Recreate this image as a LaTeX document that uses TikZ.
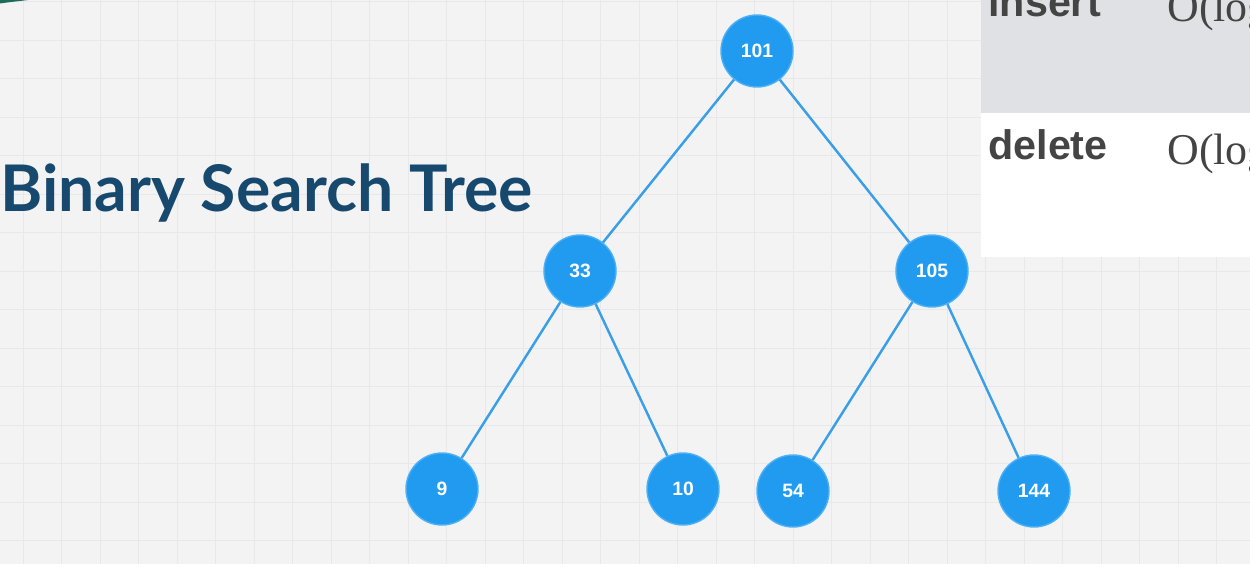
\documentclass[tikz,border=0pt]{standalone}
\usepackage{fontspec}
\setmainfont{Liberation Sans}
\newfontfamily\titlefont{Lato}
\newfontfamily\serifnum{Liberation Serif}
\definecolor{bgc}{HTML}{F3F3F4}
\definecolor{gridc}{HTML}{E8E8EA}
\definecolor{nodeblue}{HTML}{209BF0}
\definecolor{nodering}{HTML}{4DB0F5}
\definecolor{edgeblue}{HTML}{3A9FE6}
\definecolor{titleblue}{HTML}{17496F}
\definecolor{rowgray}{HTML}{E0E1E4}
\definecolor{tabtext}{HTML}{444444}
\definecolor{cornergreen}{HTML}{1F6B5A}
\tikzset{
  bst/.style={circle, fill=nodeblue, draw=nodering, line width=0.8pt, minimum size=1.44cm, inner sep=0pt,
    text=white, font=\fontsize{11}{12}\selectfont\bfseries},
  edge/.style={draw=edgeblue, line width=1.4pt},
  optext/.style={anchor=base west, text=tabtext, inner sep=0pt, font=\fontsize{23.5}{26}\selectfont\bfseries},
  costtext/.style={anchor=base west, text=tabtext, inner sep=0pt, font=\serifnum\fontsize{25}{28}\selectfont}
}
\begin{document}
\begin{tikzpicture}[x=0.02cm,y=-0.02cm]
\useasboundingbox (0,0) rectangle (1250,564);
\begin{scope}
\clip (0,0) rectangle (1250,564);
\fill[bgc] (0,0) rectangle (1250,564);
\foreach \i in {0,...,32} {
  \draw[gridc, line width=0.5pt] ({23+38.5*\i},0) -- ({23+38.5*\i},564);
}
\foreach \j in {0,...,14} {
  \draw[gridc, line width=0.5pt] (0,{1.5+38.5*\j}) -- (1250,{1.5+38.5*\j});
}
\fill[cornergreen] (0,0) -- (28,0) .. controls (16,1.5) and (6,2.5) .. (0,3.5) -- cycle;
% table
\fill[white] (981,0) rectangle (1250,257);
\fill[rowgray] (981,0) rectangle (1250,113);
\node[optext] (ins) at (988,17) {insert};
\node[costtext] (insc) at (1167,22) {O(log};
\node[optext] (del) at (988,160) {delete};
\node[costtext] (delc) at (1167,165) {O(log};
\end{scope}
% title
\node[anchor=base west, inner sep=0pt, text=titleblue, font=\titlefont\fontsize{36.6}{40}\selectfont\bfseries] (title) at (0,212) {Binary Search Tree};
% tree
\node[bst] (n101) at (757,51) {101};
\node[bst] (n33) at (580,271) {33};
\node[bst] (n105) at (932,271) {105};
\node[bst] (n9) at (442,489) {9};
\node[bst] (n10) at (683,489) {10};
\node[bst] (n54) at (793,491) {54};
\node[bst] (n144) at (1034,491) {144};
\draw[edge] (n101) -- (n33);
\draw[edge] (n101) -- (n105);
\draw[edge] (n33) -- (n9);
\draw[edge] (n33) -- (n10);
\draw[edge] (n105) -- (n54);
\draw[edge] (n105) -- (n144);
\end{tikzpicture}
\end{document}
